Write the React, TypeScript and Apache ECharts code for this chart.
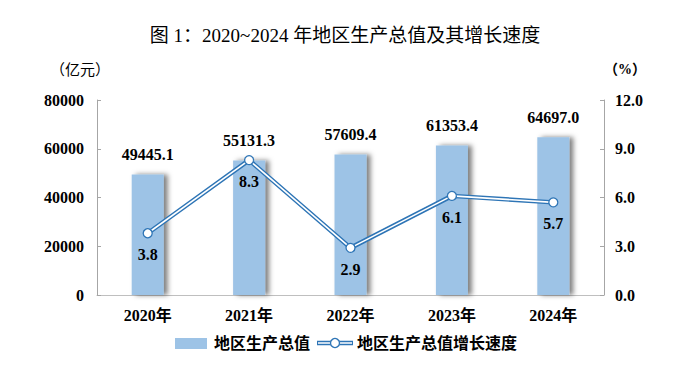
import React, { useEffect, useRef } from "react";
import * as echarts from "echarts";

const categories = ["2020年", "2021年", "2022年", "2023年", "2024年"];
const gdpValues = [49445.1, 55131.3, 57609.4, 61353.4, 64697.0];
const growthValues = [3.8, 8.3, 2.9, 6.1, 5.7];
const leftTicks = { min: 0, max: 80000, interval: 20000 };
const rightTicks = { min: 0, max: 12, interval: 3 };

const SERIF = "'Liberation Serif', 'Times New Roman', 'Noto Sans CJK SC', serif";
const BLUE = "#2E75B6";
const BAR = "#9DC3E6";

export default function App() {
  const ref = useRef<HTMLDivElement>(null);
  useEffect(() => {
    if (!ref.current) return;
    const chart = echarts.init(ref.current, undefined, { renderer: "svg" });
    chart.setOption({
      animation: false,
      backgroundColor: "#fff",
      title: {
        text: "图 1：2020~2024 年地区生产总值及其增长速度",
        left: "center",
        top: 21,
        textStyle: { fontFamily: SERIF, fontSize: 19, fontWeight: "normal", color: "#000" },
      },
      grid: { left: 97, right: 86, top: 100, bottom: 80 },
      xAxis: {
        type: "category",
        data: categories,
        boundaryGap: true,
        axisLine: { lineStyle: { color: "#BFBFBF", width: 1 } },
        axisTick: { show: false },
        axisLabel: { fontFamily: SERIF, fontSize: 16, fontWeight: "bold", color: "#000", margin: 12 },
      },
      yAxis: [
        {
          type: "value",
          ...leftTicks,
          axisLine: { show: true, lineStyle: { color: "#A6A6A6" } },
          axisTick: { show: true, inside: true, length: 4, lineStyle: { color: "#A6A6A6" } },
          splitLine: { show: false },
          axisLabel: {
            fontFamily: SERIF,
            fontSize: 16,
            fontWeight: "bold",
            color: "#000",
            margin: 13,
            formatter: (v: number) => String(v),
          },
        },
        {
          type: "value",
          ...rightTicks,
          position: "right",
          axisLine: { show: true, lineStyle: { color: "#A6A6A6" } },
          axisTick: { show: true, inside: true, length: 4, lineStyle: { color: "#A6A6A6" } },
          splitLine: { show: false },
          axisLabel: {
            fontFamily: SERIF,
            fontSize: 16,
            fontWeight: "bold",
            color: "#000",
            margin: 11,
            formatter: (v: number) => v.toFixed(1),
          },
        },
      ],
      series: [
        {
          name: "地区生产总值",
          type: "bar",
          data: gdpValues,
          barWidth: 32,
          itemStyle: {
            color: BAR,
            shadowColor: "rgba(0,0,0,0.5)",
            shadowBlur: 5,
            shadowOffsetX: 4,
            shadowOffsetY: 0,
          },
          label: {
            show: true,
            position: "top",
            distance: 12,
            fontFamily: SERIF,
            fontSize: 16,
            fontWeight: "bold",
            color: "#000",
            formatter: (p: any) => Number(p.value).toFixed(1),
          },
        },
        {
          name: "地区生产总值增长速度",
          type: "line",
          yAxisIndex: 1,
          data: growthValues,
          symbol: "none",
          lineStyle: { color: BLUE, width: 4.5 },
          z: 3,
        },
        {
          name: "inner",
          type: "line",
          yAxisIndex: 1,
          data: growthValues,
          symbol: "circle",
          symbolSize: 9,
          itemStyle: { color: "#fff", borderColor: BLUE, borderWidth: 1.3 },
          lineStyle: { color: "#fff", width: 1.6 },
          z: 4,
          label: {
            show: true,
            position: "bottom",
            distance: 8,
            fontFamily: SERIF,
            fontSize: 16,
            fontWeight: "bold",
            color: "#000",
            formatter: (p: any) => Number(p.value).toFixed(1),
          },
        },
      ],
      graphic: [
        {
          type: "text",
          left: 50,
          top: 62,
          style: { text: "（亿元）", font: `15px ${SERIF}`, fill: "#000" },
        },
        {
          type: "text",
          left: 604,
          top: 62,
          style: { text: "（%）", font: `bold 14px ${SERIF}`, fill: "#000" },
        },
        { type: "rect", shape: { x: 175, y: 338, width: 32, height: 11 }, style: { fill: BAR } },
        {
          type: "text",
          x: 214,
          y: 343,
          style: { text: "地区生产总值", font: `bold 16px ${SERIF}`, fill: "#000", verticalAlign: "middle" },
        },
        { type: "line", shape: { x1: 317, y1: 343, x2: 353, y2: 343 }, style: { stroke: BLUE, lineWidth: 4.5 } },
        { type: "line", shape: { x1: 318, y1: 343, x2: 352, y2: 343 }, style: { stroke: "#fff", lineWidth: 1.6 } },
        { type: "circle", shape: { cx: 335, cy: 343, r: 4.5 }, style: { fill: "#fff", stroke: BLUE, lineWidth: 1.3 } },
        {
          type: "text",
          x: 357,
          y: 343,
          style: { text: "地区生产总值增长速度", font: `bold 16px ${SERIF}`, fill: "#000", verticalAlign: "middle" },
        },
      ],
    });
    return () => chart.dispose();
  }, []);
  return <div ref={ref} style={{ width: 690, height: 375, position: "fixed", left: 0, top: 0 }} />;
}
